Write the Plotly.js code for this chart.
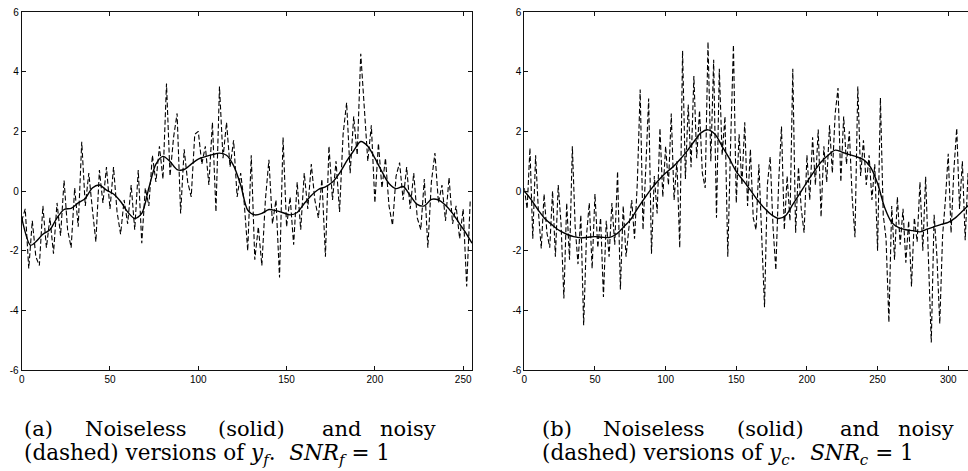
<!DOCTYPE html>
<html>
<head>
<meta charset="utf-8">
<script src="https://cdn.plot.ly/plotly-3.0.1.min.js"></script>
<style>
html,body{margin:0;padding:0;background:#fff;overflow:hidden;}
#chart{width:980px;height:471px;}
</style>
</head>
<body>
<div id="chart"></div>
<script>
// ---------- data ----------
// left panel: noisy series sampled every 2 indices (x = 0,2,...,254)
const noisyStepF = 2;
const noisyF = [
 -1.0,-0.6,-2.6,-1.0,-2.2,-2.5,-0.5,-1.9,-0.9,-2.1,
 -0.4,-1.5,0.35,-1.3,-1.9,0.1,-1.2,1.65,-0.5,0.6,
 -0.6,-1.7,0.7,-0.4,0.8,-0.6,0.8,-0.7,-1.45,-0.3,
 -1.1,0.2,-1.3,0.7,-1.75,0.1,-0.5,1.2,0.3,1.5,
 0.4,3.6,0.5,1.8,2.6,-0.75,1.4,0.3,-0.2,1.9,
 2.0,0.9,1.5,0.2,2.3,-0.7,3.5,1.1,2.3,0.8,
 1.7,-0.2,0.6,-0.4,-2.0,1.2,-2.3,-1.2,-2.5,-0.3,
 1.05,-1.1,-0.3,-2.9,1.8,-1.2,-0.2,-1.8,0.3,-1.3,
 0.6,-0.6,0.9,-0.3,-0.9,0.4,-2.2,1.5,-0.3,1.0,
 -0.7,1.9,2.96,0.6,2.5,1.2,4.6,2.7,1.0,2.2,
 -0.4,1.6,0.1,1.1,-0.5,-1.15,0.5,0.95,-0.3,0.8,
 -0.6,0.6,-0.9,-1.3,0.4,-1.9,0.3,1.27,-0.4,0.2,
 -1.0,0.45,-1.1,-0.5,-1.6,-0.6,-3.2,-0.3
];
// left panel: noiseless series
const smoothXF = [0,5,8,12,16,20,24,28,32,36,40,44,48,52,56,60,64,68,72,76,80,84,88,92,96,100,104,108,112,116,120,124,128,132,136,140,144,148,152,156,160,164,168,172,176,180,184,188,192,196,200,204,208,212,216,220,224,228,232,236,240,244,248,252,255];
const smoothF = [-0.9,-1.82,-1.7,-1.45,-1.3,-0.9,-0.62,-0.58,-0.4,-0.25,0.1,0.2,0.03,-0.1,-0.35,-0.7,-0.92,-0.75,0.1,0.9,1.16,0.99,0.72,0.72,0.9,1.07,1.15,1.22,1.27,1.2,0.85,0.2,-0.64,-0.8,-0.75,-0.62,-0.66,-0.73,-0.8,-0.72,-0.42,-0.15,0.05,0.14,0.3,0.6,1.0,1.35,1.66,1.5,1.1,0.65,0.25,0.08,0.15,-0.15,-0.45,-0.5,-0.28,-0.3,-0.48,-0.75,-1.1,-1.45,-1.75];

// right panel: noisy series sampled every 2 indices (x = 0,2,...,318)
const noisyStepC = 2;
const noisyC = [
 0.1,-0.6,1.44,-1.6,1.2,-0.7,-1.93,-0.1,-1.4,-1.9,
 0.0,-2.2,0.2,-1.1,-3.6,-0.4,-2.3,1.5,-1.2,-2.45,
 -0.8,-4.5,-1.5,-0.4,-2.6,-0.1,-1.9,-0.9,-3.55,-1.0,
 -2.2,-0.4,-1.8,0.66,-3.3,-0.5,-2.2,-1.3,-0.3,-1.6,
 0.3,3.4,-1.3,0.8,3.1,-2.1,0.5,-0.75,2.1,-0.2,
 1.5,0.2,2.6,-0.3,1.0,-1.9,4.7,0.4,2.9,0.8,
 3.85,1.1,2.7,0.6,0.1,5.0,1.0,4.4,-0.9,4.1,
 1.2,2.5,-2.2,1.6,4.9,-0.4,1.9,0.2,2.3,-0.5,
 1.4,-0.9,-1.3,0.9,-1.5,-3.9,0.2,1.15,-1.2,-2.65,
 0.3,2.16,-1.3,0.5,-1.0,4.1,-1.4,0.8,-0.6,-1.4,
 1.2,-0.3,1.8,0.2,2.06,-0.87,1.5,0.3,2.2,0.6,
 2.6,3.45,0.3,2.5,0.9,2.0,-0.2,-1.55,3.5,0.5,
 1.7,0.2,1.2,-0.3,0.9,-2.0,3.12,-0.8,-1.6,-4.4,
 -0.5,-2.3,-0.2,-1.8,-0.6,-2.4,-1.0,-3.2,-0.9,-1.7,
 0.3,-2.0,0.48,-2.6,-5.08,-0.8,-2.2,-4.45,-1.5,-0.3,
 1.25,-1.4,0.7,2.1,-0.6,1.0,-1.65,0.6,-1.9,0.2
];
// right panel: noiseless series
const smoothXC = [0,5,10,15,20,25,30,35,40,45,50,55,60,65,70,75,80,85,90,95,100,105,110,115,120,125,130,135,140,145,150,155,160,165,170,175,180,185,190,195,200,205,210,215,220,225,230,235,240,245,250,255,260,265,270,275,280,285,290,295,300,305,310,315,320];
const smoothC = [0.0,-0.3,-0.65,-0.95,-1.15,-1.33,-1.45,-1.53,-1.57,-1.55,-1.53,-1.55,-1.56,-1.45,-1.22,-0.97,-0.6,-0.25,0.08,0.36,0.6,0.8,1.05,1.33,1.65,1.95,2.05,1.9,1.5,1.1,0.65,0.35,0.03,-0.3,-0.58,-0.8,-0.92,-0.82,-0.45,-0.08,0.3,0.65,0.97,1.2,1.37,1.3,1.22,1.15,1.05,0.8,0.25,-0.55,-1.05,-1.23,-1.3,-1.33,-1.37,-1.28,-1.2,-1.12,-1.05,-0.9,-0.68,-0.45,-0.2];

// tick labels
const xTicksF = [0,50,100,150,200,250];
const xTicksC = [0,50,100,150,200,250,300];
const yTicks = [-6,-4,-2,0,2,4,6];
const yTickText = ['-6','-4','-2','0','2','4','6'];

// caption texts
const capA1 = ['(a)','Noiseless','(solid)','and','noisy'];
const capA2 = '(dashed) versions of <i>y</i><sub><i>f</i></sub>.  <i>SNR</i><sub><i>f</i></sub> = 1';
const capB1 = ['(b)','Noiseless','(solid)','and','noisy'];
const capB2 = '(dashed) versions of <i>y</i><sub><i>c</i></sub>.  <i>SNR</i><sub><i>c</i></sub> = 1';

// ---------- figure ----------
const W = 980, H = 471;
const px = v => v / W;
const py = v => 1 - v / H;

const xF = noisyF.map((_, i) => i * noisyStepF);
const xC = noisyC.map((_, i) => i * noisyStepC);

const dashStyle = {color:'#000', width:1.1, dash:'5px,2.5px'};
const solidStyle = {color:'#000', width:1.4, shape:'spline', smoothing:0.8};

const traces = [
  {x:xF, y:noisyF, xaxis:'x', yaxis:'y', mode:'lines', line:dashStyle, hoverinfo:'skip'},
  {x:smoothXF, y:smoothF, xaxis:'x', yaxis:'y', mode:'lines', line:solidStyle, hoverinfo:'skip'},
  {x:xC, y:noisyC, xaxis:'x2', yaxis:'y2', mode:'lines', line:dashStyle, hoverinfo:'skip'},
  {x:smoothXC, y:smoothC, xaxis:'x2', yaxis:'y2', mode:'lines', line:solidStyle, hoverinfo:'skip'}
];

const tickFont = {family:'Liberation Sans, Arial, sans-serif', size:10, color:'#000'};
function xAx(domain, range, vals, anchor){
  return {domain, range, anchor, tickvals:vals, ticktext:vals.map(String),
    ticks:'inside', ticklen:4, tickcolor:'#111', mirror:'ticks', showline:true,
    linecolor:'#111', linewidth:1, showgrid:false, zeroline:false, tickfont:tickFont, fixedrange:true};
}
function yAx(domain, anchor){
  return {domain, range:[-6,6], anchor, tickvals:yTicks, ticktext:yTickText,
    ticks:'inside', ticklen:4, tickcolor:'#111', mirror:'ticks', showline:true,
    linecolor:'#111', linewidth:1, showgrid:false, zeroline:false, tickfont:tickFont, fixedrange:true};
}

const yDom = [py(370), py(12)];
const capFont = {family:'DejaVu Serif, serif', size:21, color:'#000'};
const capFont2 = {family:'DejaVu Serif, serif', size:21.5, color:'#000'};

// line-1 word positions (px) for the justified first line; line 2 is left-aligned
const wordX = [22, 136, 252, 342, 438];
const annotations = [];
function addCaption(words, line2, off){
  words.forEach((w, i) => {
    const anchor = i === 0 ? 'left' : (i === words.length - 1 ? 'right' : 'center');
    annotations.push({text:w, xref:'paper', yref:'paper', x:px(wordX[i] + off), y:py(429),
      xanchor:anchor, yanchor:'middle', showarrow:false, font:capFont});
  });
  annotations.push({text:line2, xref:'paper', yref:'paper', x:px(22 + off), y:py(454),
    xanchor:'left', yanchor:'middle', showarrow:false, font:capFont2});
}
addCaption(capA1, capA2, 0);
addCaption(capB1, capB2, 518);

const layout = {
  width:W, height:H,
  margin:{l:0,r:0,t:0,b:0},
  paper_bgcolor:'#fff', plot_bgcolor:'#fff',
  showlegend:false,
  xaxis: xAx([px(21.7), px(472)], [0,255], xTicksF, 'y'),
  yaxis: yAx(yDom, 'x'),
  xaxis2: xAx([px(524.3), px(976.5)], [0,320], xTicksC, 'y2'),
  yaxis2: yAx(yDom, 'x2'),
  annotations
};

Plotly.newPlot('chart', traces, layout, {staticPlot:true, displayModeBar:false}).then(gd => {
  // drop empty placeholder text nodes (unused titles)
  gd.querySelectorAll('text').forEach(t => { if (!t.textContent.trim()) t.remove(); });
});
</script>
</body>
</html>
